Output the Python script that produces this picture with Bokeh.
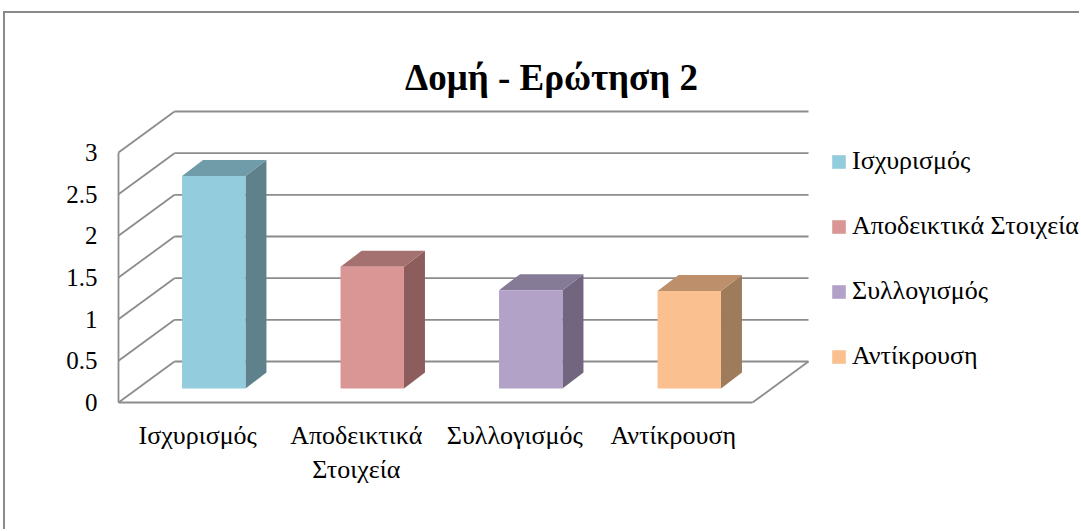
from bokeh.plotting import figure
from bokeh.models import (Range1d, FixedTicker, Legend, LegendItem, Label,
                          ColumnDataSource)
from bokeh.embed import file_html
from bokeh.resources import INLINE

# ---------------- data ----------------
title_text = "Δομή - Ερώτηση 2"
categories = ["Ισχυρισμός", "Αποδεικτικά Στοιχεία", "Συλλογισμός", "Αντίκρουση"]
axis_labels = ["Ισχυρισμός", "Αποδεικτικά\nΣτοιχεία", "Συλλογισμός", "Αντίκρουση"]
values = [2.55, 1.46, 1.18, 1.17]
y_ticks = [0, 0.5, 1, 1.5, 2, 2.5, 3]
y_tick_labels = ["0", "0.5", "1", "1.5", "2", "2.5", "3"]
front_colors = ["#93CDDD", "#D99694", "#B3A2C7", "#FAC090"]
side_colors = ["#5E818B", "#8C5D5C", "#716580", "#9E7B5B"]
top_colors = ["#6F9CA8", "#A57170", "#867B97", "#BD8F6A"]

# ---------------- layout constants (page pixels) ----------------
PAGE_W, PAGE_H = 1081, 531
OX, OY = 5, 13                     # canvas origin on the page (after border)
W, H = PAGE_W - OX, PAGE_H - OY
PX_X, PX_Y = 158.5, 83.33          # pixels per category / per value unit
ORIGIN_X, ORIGIN_Y = 118, 402      # front-plane origin on the page
FRAME_L, FRAME_B = 108, 410        # frame left / bottom on the page
DX, DY = 56 / PX_X, 41 / PX_Y      # depth of the 3-D box
BX, BY = 16 / PX_X, 14 / PX_Y      # bar front-plane offset
BDX, BDY = 21 / PX_X, 16 / PX_Y    # bar depth
BAR_W = 0.4
FONT = "Liberation Serif"
GRID = "#8c8c8c"

x_start = (FRAME_L - ORIGIN_X) / PX_X
x_end = (PAGE_W - ORIGIN_X) / PX_X
y_start = -(FRAME_B - ORIGIN_Y) / PX_Y
y_end = (ORIGIN_Y - OY) / PX_Y


def px2x(px):
    return (px - ORIGIN_X) / PX_X


def px2y(py):
    return (ORIGIN_Y - py) / PX_Y


p = figure(width=W, height=H, x_range=Range1d(x_start, x_end),
           y_range=Range1d(y_start, y_end), output_backend="svg",
           toolbar_location=None, min_border_left=FRAME_L - OX,
           min_border_right=0, min_border_top=0,
           min_border_bottom=PAGE_H - FRAME_B)
p.margin = (OY - 2, 0, 0, OX - 2)
p.styles = {"border-left": "2px solid #8a8a8a", "border-top": "2px solid #8a8a8a"}
p.title.visible = False
p.grid.visible = False
p.outline_line_color = None
p.background_fill_color = "white"
p.border_fill_color = "white"

n = len(categories)

# ---------------- 3-D walls ----------------
top_v = y_ticks[-1]
seg_x0, seg_y0, seg_x1, seg_y1 = [], [], [], []
for v in y_ticks:
    # back wall grid line
    seg_x0.append(DX); seg_y0.append(v + DY); seg_x1.append(n + DX); seg_y1.append(v + DY)
    # side-wall diagonal
    seg_x0.append(0); seg_y0.append(v); seg_x1.append(DX); seg_y1.append(v + DY)
# front axis line, floor front and floor right edge
seg_x0 += [0, 0, n]
seg_y0 += [0, 0, 0]
seg_x1 += [0, n, n + DX]
seg_y1 += [top_v, 0, DY]
p.segment(seg_x0, seg_y0, seg_x1, seg_y1, line_color=GRID, line_width=1.8)

# ---------------- bars ----------------
lefts = [i + 0.5 - BAR_W / 2 + BX for i in range(n)]
rights = [l + BAR_W for l in lefts]
bottoms = [BY] * n
tops = [BY + v for v in values]

side_xs = [[r, r + BDX, r + BDX, r] for r in rights]
side_ys = [[b, b + BDY, t + BDY, t] for b, t in zip(bottoms, tops)]
top_xs = [[l, r, r + BDX, l + BDX] for l, r in zip(lefts, rights)]
top_ys = [[t, t, t + BDY, t + BDY] for t in tops]

p.patches(side_xs, side_ys, fill_color=side_colors, line_color=None)
p.patches(top_xs, top_ys, fill_color=top_colors, line_color=None)
src = ColumnDataSource(dict(left=lefts, right=rights, bottom=bottoms, top=tops,
                            color=front_colors, cat=categories))
front = p.quad(left="left", right="right", bottom="bottom", top="top",
               fill_color="color", line_color=None, source=src)

# ---------------- axes ----------------
yax = p.yaxis[0]
yax.ticker = FixedTicker(ticks=y_ticks)
yax.major_label_overrides = {t: s for t, s in zip(y_ticks, y_tick_labels)}
yax.axis_line_color = None
yax.major_tick_line_color = None
yax.minor_tick_line_color = None
yax.major_tick_out = 0
yax.major_label_standoff = 11
yax.major_label_text_font = FONT
yax.major_label_text_font_size = "25px"
yax.major_label_text_color = "black"

x_ticks = [i + 0.5 for i in range(n)]
xax = p.xaxis[0]
xax.ticker = FixedTicker(ticks=x_ticks)
xax.major_label_overrides = {t: s for t, s in zip(x_ticks, axis_labels)}
xax.axis_line_color = None
xax.major_tick_line_color = None
xax.minor_tick_line_color = None
xax.major_tick_out = 0
xax.major_label_standoff = 10
xax.major_label_text_font = FONT
xax.major_label_text_font_size = "26px"
xax.major_label_text_color = "black"

# ---------------- legend ----------------
ROW_H, PITCH = 30, 65
LAST_ROW_CENTER = 356
leg_bottom = LAST_ROW_CENTER + ROW_H / 2
legend = Legend(items=[LegendItem(label=c, renderers=[front], index=i)
                       for i, c in enumerate(categories)],
                location=(830 - FRAME_L, FRAME_B - leg_bottom),
                orientation="vertical", padding=0, margin=0,
                spacing=PITCH - ROW_H, glyph_width=17, glyph_height=17,
                label_height=ROW_H, label_standoff=5,
                label_text_font=FONT, label_text_font_size="26px",
                label_text_color="black",
                border_line_color=None, background_fill_alpha=0)
p.add_layout(legend)

# ---------------- title ----------------
p.add_layout(Label(x=px2x(551), y=px2y(77), text=title_text,
                   text_align="center", text_baseline="alphabetic",
                   text_font=FONT, text_font_style="bold",
                   text_font_size="37px", text_color="black"))

open("out.html", "w").write(file_html(p, INLINE))
